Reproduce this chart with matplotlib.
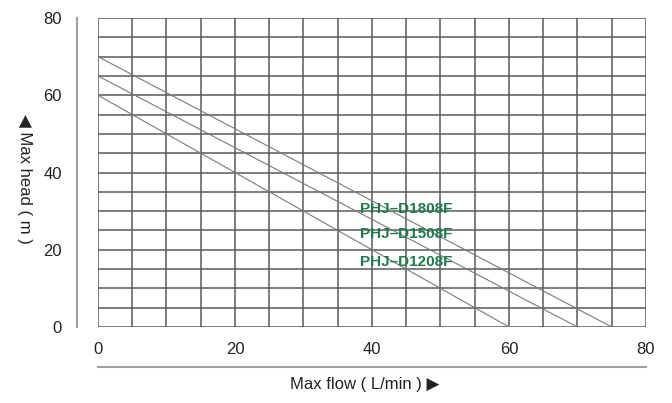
import matplotlib
matplotlib.use("Agg")
from matplotlib import pyplot as plt
from matplotlib.lines import Line2D

plt.rcParams['font.family'] = ['Liberation Sans', 'DejaVu Sans']

# pump curves: flow (L/min) vs head (m)
models = ["PHJ–D1808F", "PHJ–D1508F", "PHJ–D1208F"]
flow = [[0, 75], [0, 70], [0, 60]]
head = [[70, 0], [65, 0], [60, 0]]
label_pos = [(38.3, 30.5), (38.3, 24.0), (38.3, 16.8)]

x_ticks = [0, 20, 40, 60, 80]
y_ticks = [0, 20, 40, 60, 80]

fig = plt.figure(figsize=(6.72, 4.03), dpi=100)
ax = fig.add_axes([0.1458, 0.1886, 0.8155, 0.7667])

for f, h in zip(flow, head):
    ax.plot(f, h, color="#7a7a7a", lw=0.8)

for name, (x, y) in zip(models, label_pos):
    ax.text(x, y, name, color="#1e7b4b", fontsize=11, fontweight="bold",
            va="center", ha="left", family="Liberation Sans")

ax.set_xlim(0, 80)
ax.set_ylim(0, 80)
ax.set_xticks(range(0, 81, 5))
ax.set_yticks(range(0, 81, 5))
ax.grid(True, color="#5a5a5a", lw=1.1)
ax.set_axisbelow(True)
ax.set_xticklabels([str(v) if v in x_ticks else "" for v in range(0, 81, 5)])
ax.set_yticklabels([str(v) if v in y_ticks else "" for v in range(0, 81, 5)])
ax.tick_params(length=0, labelsize=12, colors="#222222")
ax.tick_params(axis="y", pad=26)
ax.tick_params(axis="x", pad=11)
for s in ax.spines.values():
    s.set_visible(False)

# outer reference lines
ax.add_line(Line2D([-0.0383, -0.0383], [0, 1], transform=ax.transAxes,
                   color="#a0a0a0", lw=1.5, clip_on=False))
ax.add_line(Line2D([0, 1], [-0.129, -0.129], transform=ax.transAxes,
                   color="#a0a0a0", lw=1.5, clip_on=False))

fig.text(0.037, 0.555, "◀ Max head ( m )", rotation=270, fontsize=12,
         color="#222222", ha="center", va="center")
fig.text(0.543, 0.045, "Max flow ( L/min ) ▶", fontsize=12,
         color="#222222", ha="center", va="center")

fig.savefig("out.png", dpi=100)
plt.close(fig)
